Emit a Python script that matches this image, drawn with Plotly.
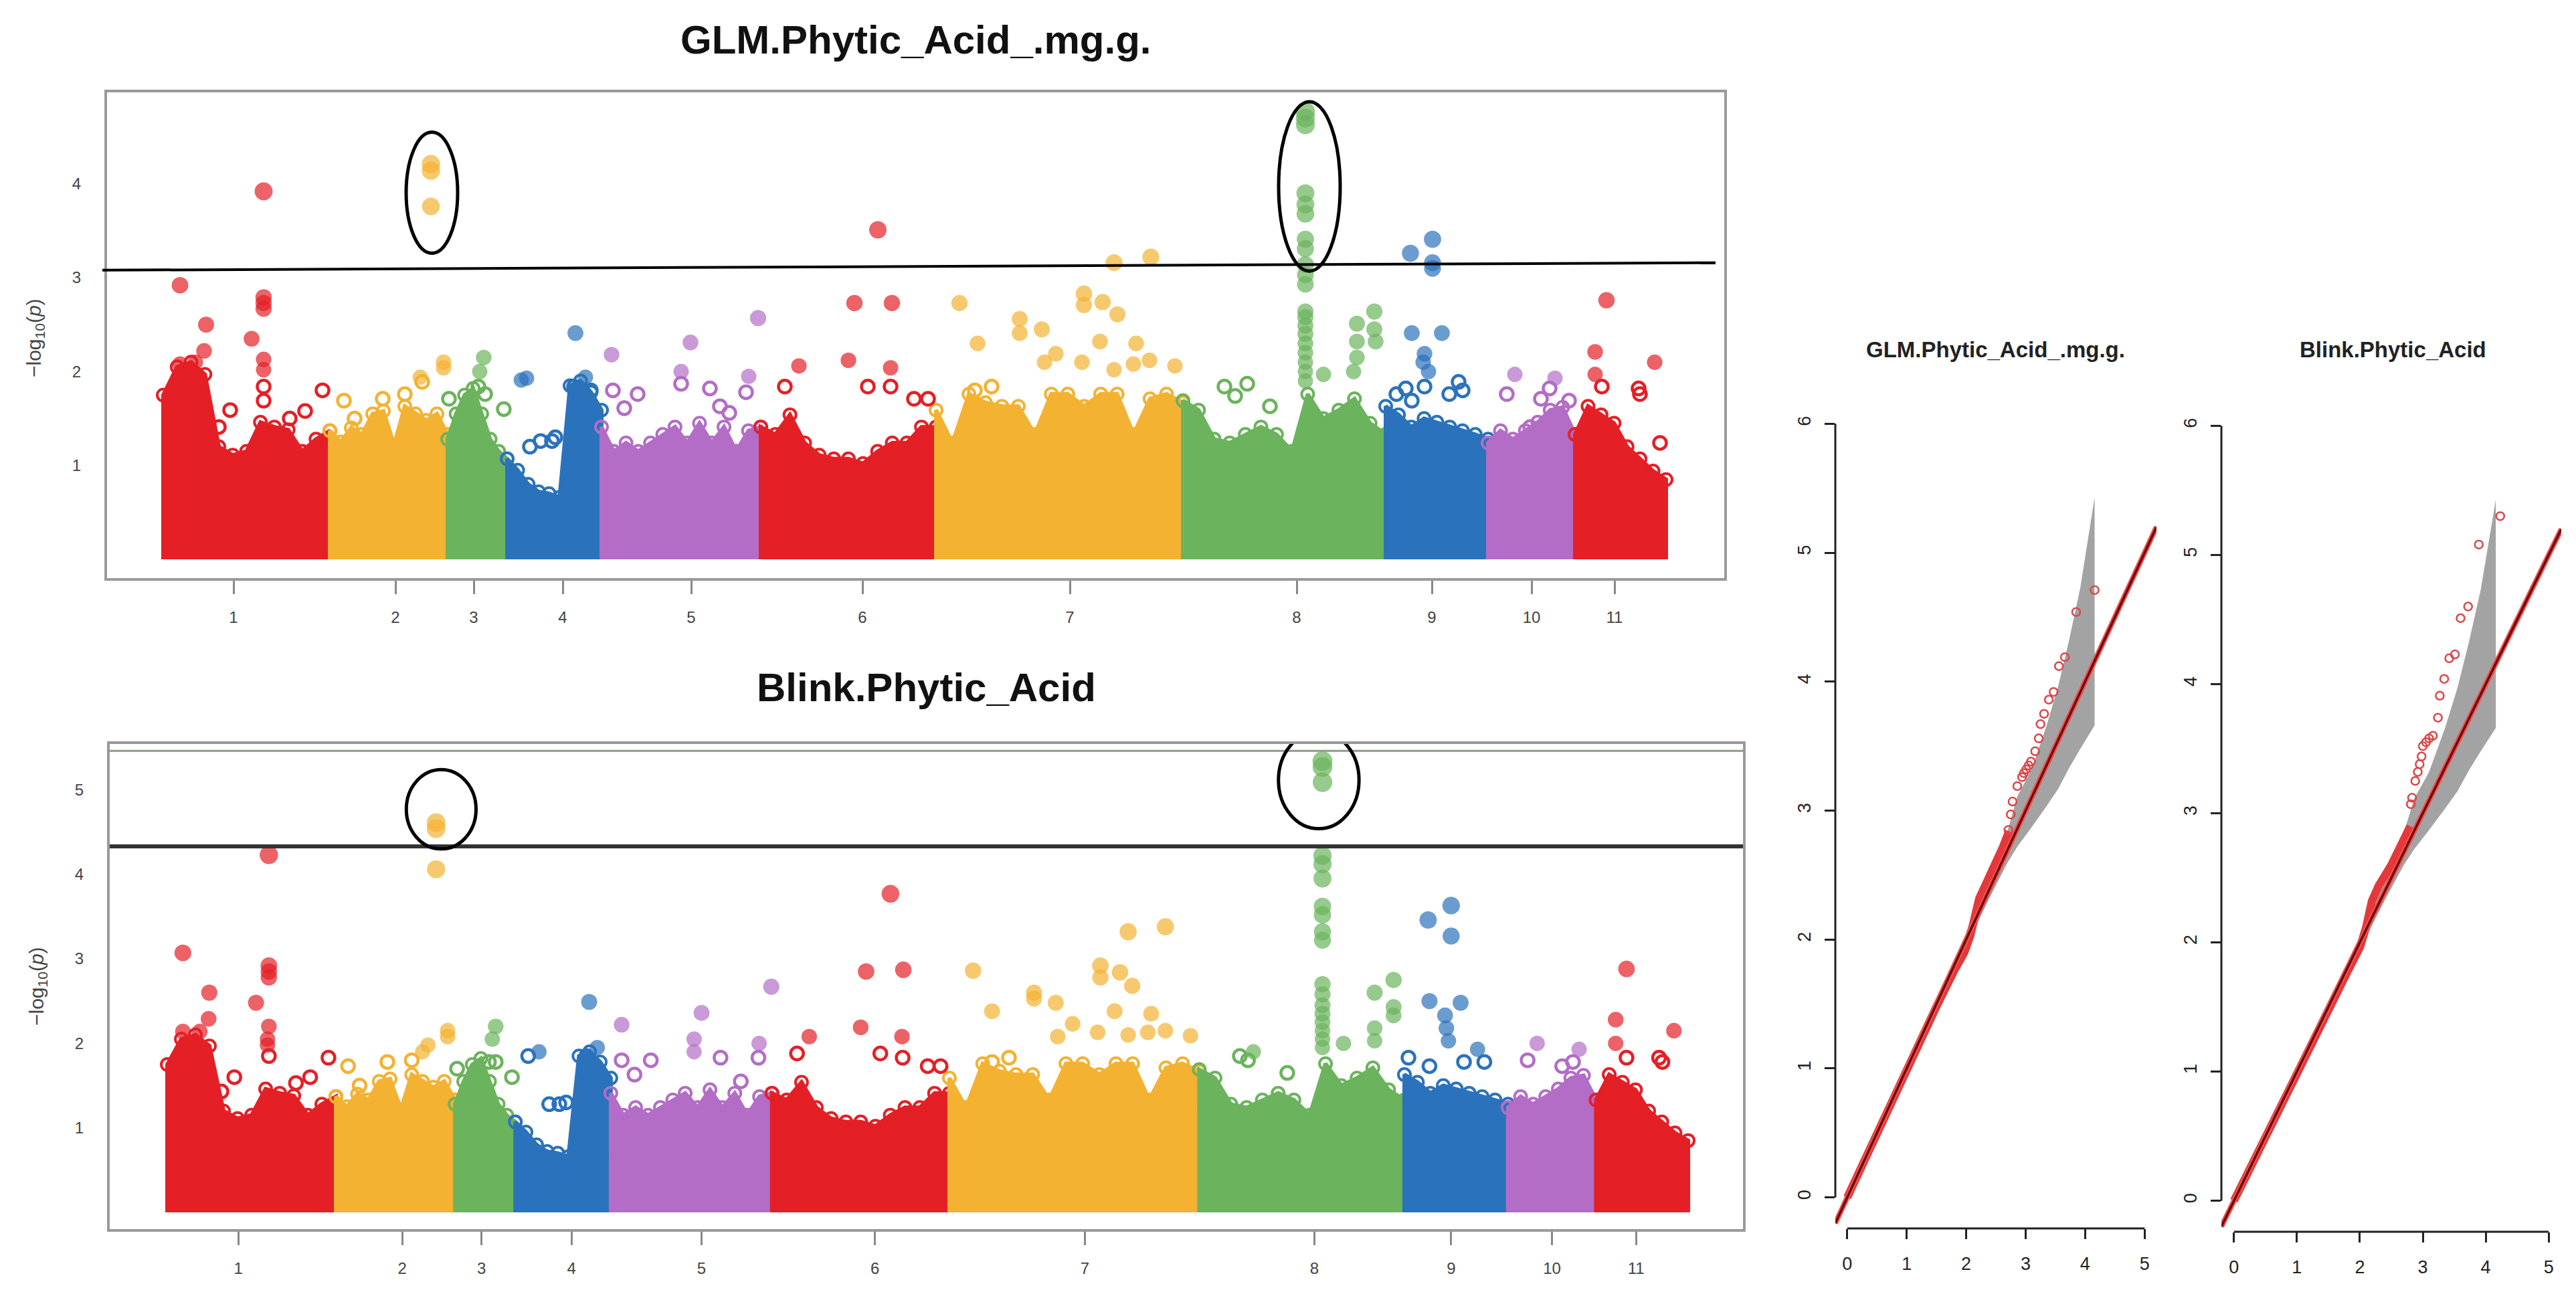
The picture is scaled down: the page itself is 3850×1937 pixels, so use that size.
import numpy as np
import plotly.graph_objects as go

FONT = "Liberation Sans"

# ---------------- Manhattan data ----------------
chrom_names = [str(i) for i in range(1, 12)]
chrom_len = [24.9, 17.6, 8.9, 14.1, 23.8, 26.2, 36.9, 30.3, 15.3, 13.0, 13.6]
chrom_tick_pos = [10.5, 9.8, 3.9, 8.3, 13.4, 15.2, 20.0, 17.0, 6.9, 6.5, 5.9]
chrom_colors = ["#E41F26", "#F4B232", "#6BB35C", "#2B72BC", "#B36DC6",
                "#E41F26", "#F4B232", "#6BB35C", "#2B72BC", "#B36DC6", "#E41F26"]

# upper edge of the dense SNP cloud, sampled evenly along each chromosome
env_c1 = [1.75, 2.05, 2.10, 1.97, 1.20, 1.11, 1.15, 1.46, 1.41, 1.38, 1.15, 1.28, 1.37]
env_c2 = [1.37, 1.25, 1.40, 1.33, 1.55, 1.58, 1.22, 1.63, 1.55, 1.48, 1.55, 1.33]
env_c3 = [1.28, 1.55, 1.75, 1.82, 1.55, 1.28, 1.15, 1.07]
env_c4 = [1.07, 0.95, 0.80, 0.72, 0.70, 0.66, 1.85, 1.90, 1.78, 1.59]
env_c5 = [1.41, 1.15, 1.24, 1.15, 1.24, 1.33, 1.41, 1.24, 1.45, 1.24, 1.41, 1.15, 1.37, 1.41]
env_c6 = [1.41, 1.33, 1.54, 1.24, 1.11, 1.07, 1.07, 1.02, 1.15, 1.24, 1.24, 1.41, 1.41]
env_c7 = [1.59, 1.24, 1.76, 1.67, 1.63, 1.63, 1.33, 1.76, 1.76, 1.63, 1.76, 1.76, 1.33, 1.71, 1.76, 1.67]
env_c8 = [1.69, 1.59, 1.28, 1.24, 1.33, 1.41, 1.33, 1.15, 1.76, 1.50, 1.59, 1.71, 1.45, 1.33]
env_c9 = [1.63, 1.54, 1.41, 1.50, 1.46, 1.41, 1.37, 1.33, 1.28]
env_c10 = [1.24, 1.37, 1.28, 1.37, 1.46, 1.59, 1.62, 1.33]
env_c11 = [1.33, 1.63, 1.54, 1.45, 1.20, 1.07, 0.94, 0.85]
body_envelopes = [env_c1, env_c2, env_c3, env_c4, env_c5, env_c6,
                  env_c7, env_c8, env_c9, env_c10, env_c11]

# isolated SNPs: (position within chromosome, -log10 p)
glm_c1 = [(2.5, 2.92), (6.4, 2.50), (6.1, 2.22), (2.5, 2.08), (4.8, 2.10), (15.0, 3.92), (15.0, 2.79),
          (15.0, 2.73), (15.0, 2.67), (13.2, 2.35), (15.0, 2.13), (15.0, 2.02), (15.0, 1.84), (15.0, 1.69),
          (10.0, 1.59), (21.2, 1.58), (23.8, 1.80), (8.3, 1.41), (18.9, 1.50)]
glm_c2 = [(15.1, 4.21), (15.1, 4.14), (15.1, 3.76), (17.0, 2.10), (17.0, 2.04), (13.5, 1.94), (13.8, 1.89),
          (2.1, 1.69), (7.9, 1.71), (11.2, 1.76), (3.7, 1.50)]
glm_c3 = [(0.2, 1.71), (5.4, 2.15), (4.8, 2.00), (5.6, 1.76), (8.4, 1.60), (4.6, 1.84)]
glm_c4 = [(10.2, 2.41), (2.1, 1.91), (2.9, 1.93), (11.7, 1.94), (10.0, 1.84), (12.5, 1.80), (6.7, 1.26),
          (5.0, 1.26), (3.4, 1.20), (7.2, 1.30)]
glm_c5 = [(1.5, 2.18), (13.3, 2.31), (23.4, 2.57), (11.9, 2.00), (11.9, 1.87), (22.0, 1.95), (21.6, 1.78),
          (1.7, 1.80), (5.4, 1.76), (16.2, 1.82), (3.4, 1.61), (19.1, 1.56), (17.7, 1.63)]
glm_c6 = [(17.5, 3.51), (14.0, 2.73), (19.6, 2.73), (13.1, 2.12), (5.7, 2.06), (3.6, 1.84), (16.0, 1.84),
          (19.4, 2.04), (19.4, 1.84), (22.9, 1.71), (25.0, 1.71)]
glm_c7 = [(26.6, 3.16), (32.1, 3.22), (3.5, 2.73), (22.1, 2.83), (22.1, 2.71), (24.9, 2.74), (27.1, 2.61),
          (12.5, 2.56), (15.8, 2.45), (6.2, 2.30), (24.5, 2.32), (29.9, 2.30), (12.5, 2.41), (17.9, 2.19),
          (21.8, 2.10), (31.9, 2.12), (35.7, 2.06), (29.5, 2.08), (16.2, 2.10), (26.6, 2.02), (8.3, 1.84),
          (5.8, 1.80)]
glm_c8 = [(18.3, 4.77), (18.3, 4.70), (18.3, 4.63), (18.3, 3.90), (18.3, 3.78), (18.3, 3.68), (18.3, 3.41),
          (18.3, 3.31), (18.3, 3.14), (18.3, 3.03), (18.3, 2.93), (18.3, 2.64), (18.3, 2.58), (18.3, 2.49),
          (18.3, 2.40), (18.3, 2.30), (18.3, 2.20), (18.3, 2.10), (18.3, 2.00), (18.3, 1.90), (26.0, 2.51),
          (28.6, 2.64), (28.6, 2.45), (26.0, 2.32), (28.8, 2.32), (26.0, 2.15), (25.5, 2.00), (21.0, 1.97),
          (6.2, 1.84), (7.8, 1.74), (9.6, 1.87), (13.0, 1.63)]
glm_c9 = [(7.0, 3.41), (3.7, 3.26), (7.0, 3.10), (7.0, 3.16), (3.9, 2.41), (8.4, 2.41), (5.8, 2.19),
          (5.6, 2.10), (6.4, 2.00), (10.9, 1.89), (3.0, 1.82), (5.8, 1.84), (3.9, 1.69), (1.6, 1.76),
          (11.5, 1.80), (9.5, 1.76)]
glm_c10 = [(4.0, 1.97), (2.8, 1.76), (10.0, 1.93), (9.2, 1.82), (12.1, 1.69), (7.9, 1.71), (6.3, 1.41)]
glm_c11 = [(4.7, 2.76), (3.0, 2.21), (3.0, 1.97), (4.0, 1.84), (11.9, 2.10), (9.7, 1.76), (9.5, 1.82),
           (12.7, 1.24)]
glm_points = [glm_c1, glm_c2, glm_c3, glm_c4, glm_c5, glm_c6, glm_c7, glm_c8, glm_c9, glm_c10, glm_c11]

blink_c1 = [(2.3, 3.07), (6.2, 2.60), (6.1, 2.29), (2.3, 2.14), (13.1, 2.48), (15.0, 4.23), (15.0, 2.92),
            (15.0, 2.85), (15.0, 2.78), (15.0, 2.20), (14.8, 2.05), (14.8, 1.98), (15.0, 1.85), (9.9, 1.60),
            (21.1, 1.60), (23.8, 1.83), (8.0, 1.43), (19.0, 1.53), (4.8, 2.14)]
blink_c2 = [(14.8, 4.61), (14.8, 4.54), (14.8, 4.06), (16.5, 2.15), (16.5, 2.08), (13.6, 1.98), (12.8, 1.90),
            (1.8, 1.73), (7.6, 1.78), (11.2, 1.80), (3.5, 1.50)]
blink_c3 = [(0.3, 1.70), (6.0, 2.20), (5.5, 2.05), (6.0, 1.78), (8.4, 1.60), (5.0, 1.78)]
blink_c4 = [(10.9, 2.49), (1.9, 1.85), (3.5, 1.90), (12.1, 1.95), (10.5, 1.85), (6.5, 1.28), (5.0, 1.28),
            (7.5, 1.30)]
blink_c5 = [(1.6, 2.22), (13.4, 2.36), (23.7, 2.67), (12.3, 2.05), (12.3, 1.90), (21.9, 2.00), (21.8, 1.83),
            (1.6, 1.80), (5.9, 1.80), (16.2, 1.83), (3.5, 1.63), (19.2, 1.55)]
blink_c6 = [(13.9, 2.85), (17.5, 3.77), (19.4, 2.87), (13.1, 2.19), (5.5, 2.08), (3.7, 1.88), (19.2, 2.08),
            (19.3, 1.83), (23.0, 1.73), (24.9, 1.73), (16.0, 1.88)]
blink_c7 = [(26.4, 3.32), (31.9, 3.38), (3.5, 2.86), (22.3, 2.92), (22.3, 2.78), (25.2, 2.84), (27.0, 2.68),
            (12.5, 2.60), (15.7, 2.48), (6.3, 2.38), (24.4, 2.38), (29.8, 2.35), (12.5, 2.53), (18.2, 2.23),
            (21.9, 2.13), (31.9, 2.15), (35.6, 2.09), (29.3, 2.13), (16.0, 2.08), (26.4, 2.10), (8.8, 1.83),
            (6.3, 1.78)]
blink_c8 = [(18.2, 5.34), (18.2, 5.27), (18.2, 5.09), (18.2, 4.22), (18.2, 4.12), (18.2, 3.95), (18.2, 3.62),
            (18.2, 3.52), (18.2, 3.32), (18.2, 3.22), (18.2, 2.70), (18.2, 2.58), (18.2, 2.45), (18.2, 2.35),
            (18.2, 2.25), (18.2, 2.15), (18.2, 2.05), (18.2, 1.95), (25.9, 2.60), (28.7, 2.75), (28.7, 2.43),
            (28.7, 2.33), (25.9, 2.18), (25.9, 2.03), (21.3, 2.00), (6.0, 1.85), (8.0, 1.90), (7.2, 1.80),
            (13.0, 1.65)]
blink_c9 = [(6.9, 3.63), (3.5, 3.46), (6.9, 3.27), (3.7, 2.50), (8.3, 2.48), (6.0, 2.33), (6.2, 2.18),
            (6.5, 2.03), (10.8, 1.93), (0.6, 1.83), (3.7, 1.73), (11.8, 1.78), (8.8, 1.78)]
blink_c10 = [(4.3, 2.00), (2.9, 1.80), (10.5, 1.93), (9.6, 1.78), (8.0, 1.73)]
blink_c11 = [(4.5, 2.88), (2.9, 2.28), (2.9, 2.00), (4.5, 1.83), (11.5, 2.15), (9.3, 1.83), (9.8, 1.78)]
blink_points = [blink_c1, blink_c2, blink_c3, blink_c4, blink_c5, blink_c6,
                blink_c7, blink_c8, blink_c9, blink_c10, blink_c11]

glm_threshold = [3.08, 3.16]      # as drawn (slightly tilted in the source image)
blink_threshold = 4.33
# highlighted peaks: (x0, x1, y0, y1)
glm_circles = [(36.3, 44.0, 3.26, 4.55), (166.7, 175.9, 3.07, 4.875)]
blink_circles = [(35.3, 45.6, 4.30, 5.24), (164.1, 176.0, 4.54, 5.69)]

# ---------------- QQ data ----------------
qq_band_x = [2.0, 2.4, 2.7, 2.86, 3.10, 3.36, 3.55, 3.73, 3.92, 4.16]
qq_band_hi = [2.06, 2.50, 2.85, 3.11, 3.32, 3.67, 3.97, 4.32, 4.73, 5.43]
qq_band_lo = [1.95, 2.33, 2.60, 2.72, 2.87, 3.04, 3.17, 3.33, 3.48, 3.66]

qq_glm_dense_exp = [0.0, 0.5, 1.0, 1.5, 1.8, 1.97, 2.07, 2.15, 2.22, 2.34, 2.5, 2.62, 2.72]
qq_glm_dense_obs = [0.0, 0.5, 1.0, 1.48, 1.76, 1.90, 2.03, 2.22, 2.32, 2.44, 2.59, 2.72, 2.84]
qq_glm_top_exp = [4.16, 3.85, 3.66, 3.56, 3.47, 3.39, 3.31, 3.25, 3.22, 3.16, 3.09, 3.05, 3.01, 2.97,
                  2.94, 2.86, 2.78, 2.75, 2.71]
qq_glm_top_obs = [4.71, 4.54, 4.19, 4.12, 3.92, 3.86, 3.75, 3.67, 3.56, 3.46, 3.38, 3.35, 3.32, 3.29,
                  3.26, 3.19, 3.07, 2.97, 2.85]

qq_blink_dense_exp = [0.0, 0.5, 1.0, 1.5, 1.8, 2.0, 2.1, 2.19, 2.3, 2.5, 2.7, 2.8]
qq_blink_dense_obs = [0.0, 0.5, 1.0, 1.5, 1.77, 1.96, 2.12, 2.32, 2.44, 2.60, 2.80, 2.90]
qq_blink_top_exp = [4.23, 3.89, 3.72, 3.60, 3.51, 3.42, 3.34, 3.27, 3.24, 3.16, 3.10, 3.05, 3.00, 2.98,
                    2.95, 2.92, 2.88, 2.83, 2.81]
qq_blink_top_obs = [5.30, 5.08, 4.60, 4.51, 4.23, 4.20, 4.04, 3.91, 3.74, 3.60, 3.58, 3.55, 3.52, 3.44,
                    3.38, 3.32, 3.25, 3.12, 3.07]

# ---------------- figure ----------------
W, H = 3850, 1937
fig = go.Figure()
offsets = np.concatenate([[0.0], np.cumsum(chrom_len)[:-1]])


def add_manhattan(points, xa, ya):
    for i in range(len(chrom_len)):
        env = body_envelopes[i]
        c = chrom_colors[i]
        xs = offsets[i] + np.linspace(0, chrom_len[i], len(env))
        px = [offsets[i]] + list(xs) + [offsets[i] + chrom_len[i]]
        py = [0.0] + list(env) + [0.0]
        fig.add_trace(go.Scatter(x=px, y=py, mode="lines", fill="toself", fillcolor=c,
                                 line=dict(color=c, width=6),
                                 xaxis=xa, yaxis=ya, hoverinfo="skip", showlegend=False))
        # ragged rim of open circles along the cloud's upper edge
        fig.add_trace(go.Scatter(x=list(xs), y=list(env), mode="markers",
                                 marker=dict(symbol="circle-open", size=18, color=c,
                                             line=dict(width=4, color=c)),
                                 xaxis=xa, yaxis=ya, hoverinfo="skip", showlegend=False))
    for i, pts in enumerate(points):
        c = chrom_colors[i]
        low = [(p, v) for p, v in pts if v < 1.9]
        high = [(p, v) for p, v in pts if v >= 1.9]
        if low:
            fig.add_trace(go.Scatter(
                x=[offsets[i] + p for p, v in low], y=[v for p, v in low], mode="markers",
                marker=dict(symbol="circle-open", size=19, color=c, line=dict(width=4.5, color=c)),
                xaxis=xa, yaxis=ya, showlegend=False))
        if high:
            fig.add_trace(go.Scatter(
                x=[offsets[i] + p for p, v in high], y=[v for p, v in high], mode="markers",
                marker=dict(symbol="circle", size=[19 + 2.0 * v for p, v in high], color=c,
                            line=dict(width=0)),
                xaxis=xa, yaxis=ya, showlegend=False))


add_manhattan(glm_points, "x", "y")
add_manhattan(blink_points, "x2", "y2")


def add_qq(dense_e, dense_o, top_e, top_o, xa, ya):
    fig.add_trace(go.Scatter(x=qq_band_x + qq_band_x[::-1], y=qq_band_hi + qq_band_lo[::-1],
                             mode="lines", fill="toself", fillcolor="#A3A3A3",
                             line=dict(width=0, color="#A3A3A3"), xaxis=xa, yaxis=ya,
                             hoverinfo="skip", showlegend=False))
    fig.add_trace(go.Scatter(x=dense_e, y=dense_o, mode="lines",
                             line=dict(color="#E5383B", width=12), xaxis=xa, yaxis=ya,
                             showlegend=False))
    fig.add_trace(go.Scatter(x=top_e, y=top_o, mode="markers",
                             marker=dict(symbol="circle-open", size=12, color="#D9474B",
                                         line=dict(width=2.5, color="#D9474B")),
                             xaxis=xa, yaxis=ya, showlegend=False))
    fig.add_trace(go.Scatter(x=[-0.2, 5.2], y=[-0.2, 5.2], mode="lines",
                             line=dict(color="#F05050", width=8), xaxis=xa, yaxis=ya,
                             hoverinfo="skip", showlegend=False))
    fig.add_trace(go.Scatter(x=[-0.2, 5.2], y=[-0.2, 5.2], mode="lines",
                             line=dict(color="#6E0A0A", width=3.5), xaxis=xa, yaxis=ya,
                             hoverinfo="skip", showlegend=False))


add_qq(qq_glm_dense_exp, qq_glm_dense_obs, qq_glm_top_exp, qq_glm_top_obs, "x3", "y3")
add_qq(qq_blink_dense_exp, qq_blink_dense_obs, qq_blink_top_exp, qq_blink_top_obs, "x4", "y4")

tick_x = [offsets[i] + chrom_tick_pos[i] for i in range(len(chrom_len))]
axis_font = dict(family=FONT, size=24, color="#444444")


def manh_x(domain, rng, anchor):
    return dict(domain=domain, range=rng, anchor=anchor, tickvals=tick_x, ticktext=chrom_names,
                ticks="outside", ticklen=20, tickwidth=3, tickcolor="#888888", tickfont=axis_font,
                ticklabelstandoff=14, showline=True, linecolor="#9A9A9A", linewidth=4, mirror=True,
                showgrid=False, zeroline=False)


def manh_y(domain, rng, anchor, tv):
    return dict(domain=domain, range=rng, anchor=anchor, tickvals=tv, ticktext=[str(t) for t in tv],
                ticks="", tickfont=axis_font, ticklabelstandoff=30, showline=True,
                linecolor="#9A9A9A", linewidth=4, mirror=True, showgrid=False, zeroline=False)


qq_font = dict(family=FONT, size=27, color="#222222")


def qq_x(domain, anchor):
    return dict(domain=domain, range=[-0.2, 5.2], anchor=anchor, tickvals=[0, 1, 2, 3, 4, 5],
                ticks="outside", ticklen=15, tickwidth=3, tickcolor="#222222", tickfont=qq_font,
                ticklabelstandoff=14, showline=False, showgrid=False, zeroline=False)


def qq_y(domain, anchor):
    return dict(domain=domain, range=[-0.24, 6.24], anchor=anchor, tickvals=[0, 1, 2, 3, 4, 5, 6],
                ticks="outside", ticklen=15, tickwidth=3, tickcolor="#222222", tickfont=qq_font,
                tickangle=-90, ticklabelstandoff=10, showline=False, showgrid=False, zeroline=False)


fig.update_layout(
    width=W, height=H, margin=dict(l=0, r=0, t=0, b=0),
    paper_bgcolor="white", plot_bgcolor="white", showlegend=False,
    xaxis=manh_x([152 / W, 2569 / W], [-8.4, 233.3], "y"),
    yaxis=manh_y([1 - 856 / H, 1 - 130 / H], [-0.2, 4.975], "x", [1, 2, 3, 4]),
    xaxis2=manh_x([156 / W, 2597 / W], [-8.5, 232.7], "y2"),
    yaxis2=manh_y([1 - 1829 / H, 1 - 1104 / H], [-0.198, 5.542], "x2", [1, 2, 3, 4, 5]),
    xaxis3=qq_x([2735 / W, 3215 / W], "y3"),
    yaxis3=qq_y([1 - 1828 / H, 1 - 579 / H], "x3"),
    xaxis4=qq_x([3312 / W, 3820 / W], "y4"),
    yaxis4=qq_y([1 - 1833 / H, 1 - 582 / H], "x4"),
)

shapes = []
# threshold lines
shapes.append(dict(type="line", xref="paper", yref="y", x0=145 / W, x1=2556 / W,
                   y0=glm_threshold[0], y1=glm_threshold[1], line=dict(color="black", width=4)))
shapes.append(dict(type="line", xref="x2 domain", yref="y2", x0=0, x1=1,
                   y0=blink_threshold, y1=blink_threshold, line=dict(color="#333333", width=6)))
# double top border of the Blink panel
shapes.append(dict(type="line", xref="x2 domain", yref="y2", x0=0, x1=1, y0=5.46, y1=5.46,
                   line=dict(color="#8E9C88", width=3)))
# highlight ellipses
for (x0, x1, y0, y1) in glm_circles:
    shapes.append(dict(type="circle", xref="x", yref="y", x0=x0, x1=x1, y0=y0, y1=y1,
                       line=dict(color="black", width=5)))
for (x0, x1, y0, y1) in blink_circles:
    shapes.append(dict(type="circle", xref="x2", yref="y2", x0=x0, x1=x1, y0=y0, y1=y1,
                       line=dict(color="black", width=5)))
# R-style axis lines on QQ plots
for xa, ya in (("x3", "y3"), ("x4", "y4")):
    shapes.append(dict(type="line", xref=xa, yref=ya + " domain", x0=0, x1=5, y0=0, y1=0,
                       line=dict(color="#222222", width=3)))
    shapes.append(dict(type="line", xref=xa + " domain", yref=ya, x0=0, x1=0, y0=0, y1=6,
                       line=dict(color="#222222", width=3)))
fig.update_layout(shapes=shapes)


def label(text, x, y, size, color="#111111", angle=0):
    return dict(text=text, x=x / W, y=1 - y / H, xref="paper", yref="paper", showarrow=False,
                xanchor="center", yanchor="middle", textangle=angle,
                font=dict(family=FONT, size=size, color=color))


ann = [
    label("<b>GLM.Phytic_Acid_.mg.g.</b>", 1360, 52, 60),
    label("<b>Blink.Phytic_Acid</b>", 1376, 1019, 60),
    label("<b>GLM.Phytic_Acid_.mg.g.</b>", 2974, 514, 33, "#222222"),
    label("<b>Blink.Phytic_Acid</b>", 3568, 514, 33, "#222222"),
    label("\u2212log<sub>10</sub>(<i>p</i>)", 44, 497, 30, "#444444", -90),
    label("\u2212log<sub>10</sub>(<i>p</i>)", 48, 1466, 30, "#444444", -90),
]
fig.update_layout(annotations=ann)

fig.write_html("out.html")
